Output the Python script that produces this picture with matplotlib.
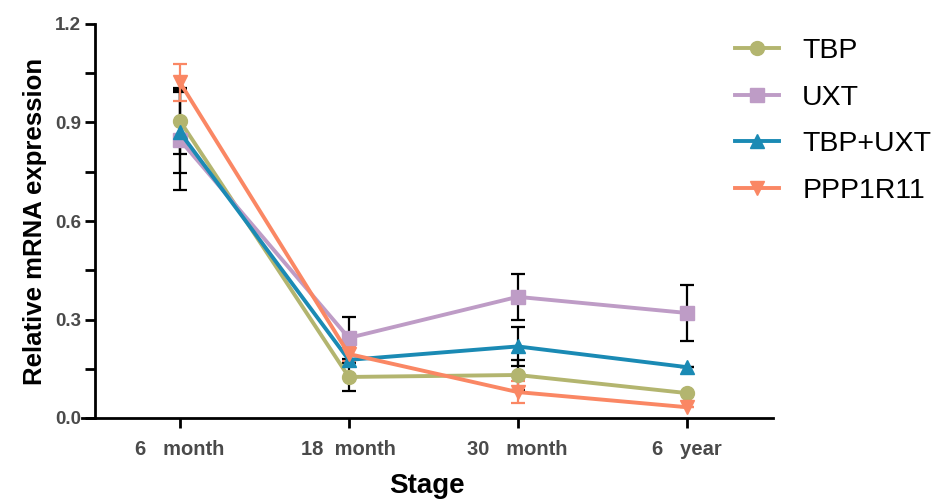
import matplotlib.pyplot as plt
from matplotlib.lines import Line2D
import numpy as np

plt.rcParams['font.family'] = ['Liberation Sans', 'DejaVu Sans']

stages = ["6   month", "18  month", "30   month", "6   year"]
series = ["TBP", "UXT", "TBP+UXT", "PPP1R11"]
tbp = [0.905, 0.125, 0.131, 0.076]
tbp_err = [0.10, 0.043, 0.046, 0.0]
uxt = [0.847, 0.244, 0.369, 0.320]
uxt_err = [0.153, 0.064, 0.070, 0.085]
tbp_uxt = [0.870, 0.177, 0.218, 0.155]
tbp_uxt_err = [0.124, 0.0, 0.060, 0.0]
ppp = [1.022, 0.195, 0.079, 0.033]
ppp_err = [0.057, 0.02, 0.033, 0.0]

colors = ["#B3B56F", "#BE9CC6", "#1A8AB4", "#FA8764"]
markers = ["o", "s", "^", "v"]
ecolors = ["black", "black", "black", "#FA8764"]

fig = plt.figure(figsize=(9.5, 5), dpi=100)
ax = fig.add_axes((0.0863, 0.164, 0.727, 0.788))

x = np.arange(len(stages))
handles = []
for name, y, e, c, m, ec in zip(series, [tbp, uxt, tbp_uxt, ppp],
                                [tbp_err, uxt_err, tbp_uxt_err, ppp_err],
                                colors, markers, ecolors):
    ax.errorbar(x, y, yerr=e, color=c, marker=m, markersize=10, lw=2.8,
                ecolor=ec, elinewidth=1.6, capsize=5, capthick=1.6,
                clip_on=False)
    handles.append(Line2D([], [], color=c, marker=m, markersize=10, lw=2.8, label=name))

ax.set_xlim(-0.58, 3.51)
ax.set_ylim(0, 1.2)
ax.spines['left'].set_position(('data', -0.5))
ax.spines['right'].set_visible(False)
ax.spines['top'].set_visible(False)
for s in ['left', 'bottom']:
    ax.spines[s].set_linewidth(2)

ax.set_xticks(x)
ax.set_xticklabels(stages)
ax.set_yticks([0, 0.3, 0.6, 0.9, 1.2])
ax.set_yticks(np.arange(0.15, 1.2, 0.3), minor=True)
ax.tick_params(axis='both', which='both', direction='out', width=2, length=7,
               labelcolor='#4a4a4a')
ax.tick_params(axis='y', labelsize=13.5)
ax.tick_params(axis='x', labelsize=14.5, pad=9)
for lab in ax.get_xticklabels() + ax.get_yticklabels():
    lab.set_fontweight('bold')

ax.set_ylabel("Relative mRNA expression", fontsize=18.5, fontweight='bold', labelpad=6)
ax.set_xlabel("Stage", fontsize=20, fontweight='bold', labelpad=10)

fig.legend(handles=handles, loc='upper left', bbox_to_anchor=(0.747, 0.975),
           frameon=False, fontsize=20.5, handlelength=1.55, handletextpad=0.8,
           labelspacing=0.72)

fig.savefig("out.png", dpi=100)
